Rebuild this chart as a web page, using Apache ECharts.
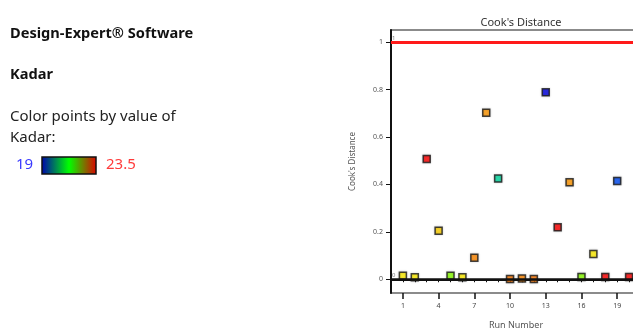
<!DOCTYPE html>
<html>
<head>
<meta charset="utf-8">
<script src="https://cdn.jsdelivr.net/npm/echarts@6/dist/echarts.min.js"></script>
<style>
  html, body { margin: 0; padding: 0; background: #fff; }
  #chart { width: 633px; height: 331px; }
</style>
</head>
<body>
<div id="chart"></div>
<script>
// Diagnostics: Cook's distance per run, coloured by the Kadar response
const runNumbers = [1, 2, 3, 4, 5, 6, 7, 8, 9, 10, 11, 12, 13, 14, 15, 16, 17, 18, 19, 20];
const cooksDistance = [0.015, 0.008, 0.508, 0.205, 0.015, 0.008, 0.091, 0.703, 0.425, 0.001,
                       0.003, 0.001, 0.789, 0.219, 0.409, 0.010, 0.107, 0.010, 0.415, 0.010];
const kadarValues = [22.0, 22.0, 23.5, 22.2, 21.3, 22.0, 22.7, 22.6, 20.4, 22.8,
                     22.7, 22.8, 19.0, 23.5, 22.6, 21.3, 22.0, 23.5, 19.5, 23.5];
const kadarRange = [19, 23.5];
const yTickValues = [0, 0.2, 0.4, 0.6, 0.8, 1];
const xLabelValues = [1, 4, 7, 10, 13, 16, 19];
const referenceLines = [0, 1];

const font = '"Noto Sans", "Open Sans", sans-serif';
const points = runNumbers.map((r, i) => [r, cooksDistance[i], kadarValues[i]]);

const chart = echarts.init(document.getElementById('chart'), null, { renderer: 'canvas' });

chart.setOption({
  animation: false,
  backgroundColor: '#ffffff',
  title: {
    text: "Cook's Distance",
    left: 516,
    top: 12,
    textAlign: 'center',
    textStyle: { fontFamily: font, fontSize: 11, fontWeight: 'normal', color: '#333' }
  },
  grid: {
    left: 391, top: 30, width: 250, height: 263,
    outerBoundsMode: 'none',
    containLabel: false,
    show: true, borderColor: '#666', borderWidth: 1.5, backgroundColor: 'transparent'
  },
  visualMap: {
    show: false,
    type: 'continuous',
    seriesIndex: 0,
    dimension: 2,
    min: kadarRange[0],
    max: kadarRange[1],
    inRange: { color: ['#0000e0', '#0070ff', '#00e890', '#80ff00', '#ffee00', '#ff8000', '#ff0000'] }
  },
  xAxis: [{
    type: 'value',
    min: 0, max: 21, interval: 1,
    name: 'Run Number',
    nameLocation: 'middle',
    nameGap: 28,
    nameTextStyle: { fontFamily: font, fontSize: 9, color: '#555' },
    axisLine: { lineStyle: { color: '#111', width: 2 } },
    axisTick: { length: 3, lineStyle: { color: '#111', width: 1 } },
    axisLabel: {
      margin: 9,
      fontFamily: font, fontSize: 7, color: '#444',
      formatter: v => (xLabelValues.indexOf(v) >= 0 ? String(v) : '')
    },
    splitLine: { show: false }
  }, {
    type: 'value',
    position: 'bottom',
    min: 0, max: 21,
    axisLine: { show: false },
    axisTick: { length: 6, customValues: xLabelValues, lineStyle: { color: '#111', width: 1.5 } },
    axisLabel: { show: false },
    splitLine: { show: false }
  }],
  yAxis: {
    type: 'value',
    min: -0.058, max: 1.052,
    name: "Cook's Distance",
    nameLocation: 'middle',
    nameGap: 34,
    nameRotate: 90,
    nameTextStyle: { fontFamily: font, fontSize: 8, color: '#555' },
    axisLine: { show: true, lineStyle: { color: '#111', width: 2 } },
    axisTick: { show: true, length: 5, customValues: yTickValues, lineStyle: { color: '#111', width: 1 } },
    axisLabel: {
      customValues: yTickValues,
      margin: 8,
      fontFamily: font, fontSize: 7, color: '#555',
      formatter: v => String(Math.round(v * 10) / 10)
    },
    splitLine: { show: false }
  },
  series: [{
    type: 'scatter',
    data: points,
    symbol: 'rect',
    symbolSize: 7,
    z: 3,
    itemStyle: {
      borderColor: '#1a1a1a',
      borderWidth: 1.5,
      shadowBlur: 2,
      shadowColor: 'rgba(0,0,0,0.22)'
    }
  }, {
    type: 'line',
    data: [],
    z: 5,
    markLine: {
      silent: true,
      symbol: 'none',
      animation: false,
      data: [
        {
          yAxis: referenceLines[0],
          lineStyle: { color: '#111', width: 2.5, type: 'solid' },
          label: { show: true, position: 'insideStartTop', distance: [1, 1], formatter: '0', fontFamily: font, fontSize: 6, color: '#777' }
        },
        {
          yAxis: referenceLines[1],
          lineStyle: { color: '#ff1a1a', width: 3, type: 'solid' },
          label: { show: true, position: 'insideStartTop', distance: [1, 1], formatter: '1', fontFamily: font, fontSize: 6, color: '#777' }
        }
      ]
    }
  }],
  graphic: [
    { type: 'text', left: 10, top: 26, style: { text: 'Design-Expert® Software', font: 'bold 14.6px ' + font, fill: '#111' } },
    { type: 'text', left: 10, top: 67, style: { text: 'Kadar', font: 'bold 14.6px ' + font, fill: '#111' } },
    { type: 'text', left: 10, top: 109, style: { text: 'Color points by value of', font: '15px ' + font, fill: '#222' } },
    { type: 'text', left: 10, top: 130, style: { text: 'Kadar:', font: '15px ' + font, fill: '#222' } },
    { type: 'text', left: 16, top: 157, style: { text: String(kadarRange[0]), font: '15px ' + font, fill: '#3a3aff' } },
    {
      type: 'rect',
      shape: { x: 42, y: 157, width: 54, height: 17 },
      style: {
        fill: new echarts.graphic.LinearGradient(0, 0, 1, 0, [
          { offset: 0, color: '#0000b0' },
          { offset: 0.5, color: '#00ff00' },
          { offset: 1, color: '#e00000' }
        ]),
        stroke: '#111',
        lineWidth: 1.5
      }
    },
    { type: 'text', left: 106, top: 157, style: { text: String(kadarRange[1]), font: '15px ' + font, fill: '#ff3a3a' } }
  ]
});
</script>
</body>
</html>
